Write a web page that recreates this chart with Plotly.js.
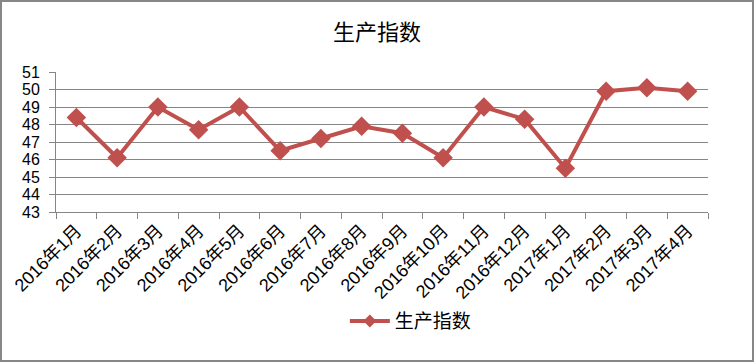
<!DOCTYPE html>
<html>
<head>
<meta charset="utf-8">
<script src="https://cdn.plot.ly/plotly-3.0.1.min.js"></script>
<style>
html,body{margin:0;padding:0;background:#fff;}
#frame{width:750px;height:358px;border:2px solid #878787;}
#chart{width:750px;height:358px;}
</style>
</head>
<body>
<div id="frame"><div id="chart"></div></div>
<script>
const categories = ["2016年1月","2016年2月","2016年3月","2016年4月","2016年5月","2016年6月","2016年7月","2016年8月","2016年9月","2016年10月","2016年11月","2016年12月","2017年1月","2017年2月","2017年3月","2017年4月"];
const values = [48.4, 46.1, 49.0, 47.7, 49.0, 46.5, 47.2, 47.9, 47.5, 46.1, 49.0, 48.3, 45.5, 49.9, 50.1, 49.9];
const seriesName = "生产指数";
const yTicks = [43,44,45,46,47,48,49,50,51];

const red = "#C0504D";
const gray = "#868686";
const xFont = {family: "'Liberation Sans','Noto Sans CJK SC', sans-serif", size: 18, color: "#000"};
const yFont = {family: "'Liberation Sans', sans-serif", size: 16, color: "#000"};

Plotly.newPlot("chart", [{
  x: categories,
  y: values,
  name: seriesName,
  type: "scatter",
  mode: "lines+markers",
  line: {color: red, width: 4},
  marker: {symbol: "diamond", size: 15, color: red},
  showlegend: false
}, {
  // legend proxy (no visible mark), smaller marker like the reference legend key
  x: [categories[0]],
  y: [null],
  name: seriesName,
  type: "scatter",
  mode: "lines+markers",
  line: {color: red, width: 4},
  marker: {symbol: "diamond", size: 10, color: red},
  showlegend: true,
  hoverinfo: "skip"
}], {
  width: 750, height: 358,
  margin: {l: 54, r: 44, t: 70, b: 148, pad: 0},
  paper_bgcolor: "#fff", plot_bgcolor: "#fff",
  title: {text: "生产指数", x: 0.5, xref: "container", y: 0.916, yref: "container", yanchor: "middle",
          font: {family: "'Noto Sans CJK SC', sans-serif", size: 22, color: "#000"}},
  xaxis: {type: "category", range: [-0.5, 15.5], showgrid: false, showline: true, linecolor: gray, linewidth: 1,
          ticks: "outside", tickson: "boundaries", ticklen: 6, tickcolor: gray, tickangle: -45,
          tickfont: xFont, zeroline: false, fixedrange: true},
  yaxis: {range: [43, 51], tickvals: yTicks, showgrid: true, gridcolor: gray, gridwidth: 1,
          showline: true, linecolor: gray, linewidth: 1, ticks: "outside", ticklen: 6, tickcolor: gray,
          ticklabelstandoff: 6,
          tickfont: yFont, zeroline: false, fixedrange: true},
  showlegend: true,
  legend: {orientation: "h", x: 0.443, xanchor: "left", y: -0.78, yanchor: "middle", itemwidth: 40,
           font: {family: "'Noto Sans CJK SC', sans-serif", size: 19, color: "#000"}, bgcolor: "rgba(0,0,0,0)"}
}, {displayModeBar: false, staticPlot: true});
</script>
</body>
</html>
